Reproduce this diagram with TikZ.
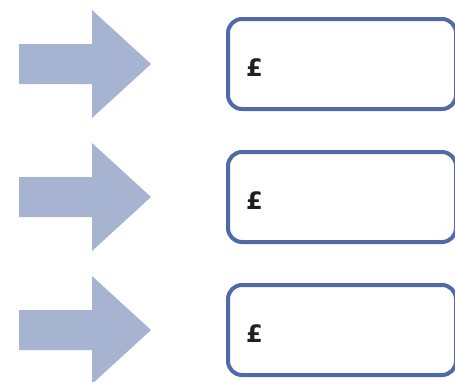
\documentclass[tikz,border=0pt]{standalone}
\usepackage{fontspec}
\setmainfont{Liberation Sans}
\newfontfamily\poundfont{DejaVu Sans}
\definecolor{arrowfill}{HTML}{A6B3D1}
\definecolor{boxline}{HTML}{4F6AA6}
\definecolor{pounddark}{HTML}{231F20}
\newcommand{\poundsize}{\fontsize{24pt}{28pt}\selectfont}
\tikzset{
  amountbox/.style={draw=boxline, line width=4pt, rounded corners=14pt,
    minimum width=228pt, minimum height=90pt, anchor=west},
  poundsign/.style={anchor=west, inner sep=0pt, text=pounddark}
}
\begin{document}
\begin{tikzpicture}[x=1pt,y=-1pt]
\useasboundingbox (0,0) rectangle (455,381);
\foreach \i/\y in {1/64,2/197,3/330} {
  % block arrow pointing at the box
  \fill[arrowfill] (19,\y-20) -- (92,\y-20) -- (92,\y-54) -- (151,\y)
    -- (92,\y+54) -- (92,\y+20) -- (19,\y+20) -- cycle;
  \node[amountbox] (box\i) at (226,\y) {};
  \node[poundsign] (pound\i) at ([shift={(20,4)}]box\i.west) {\poundfont\bfseries\poundsize £};
}
\end{tikzpicture}
\end{document}
